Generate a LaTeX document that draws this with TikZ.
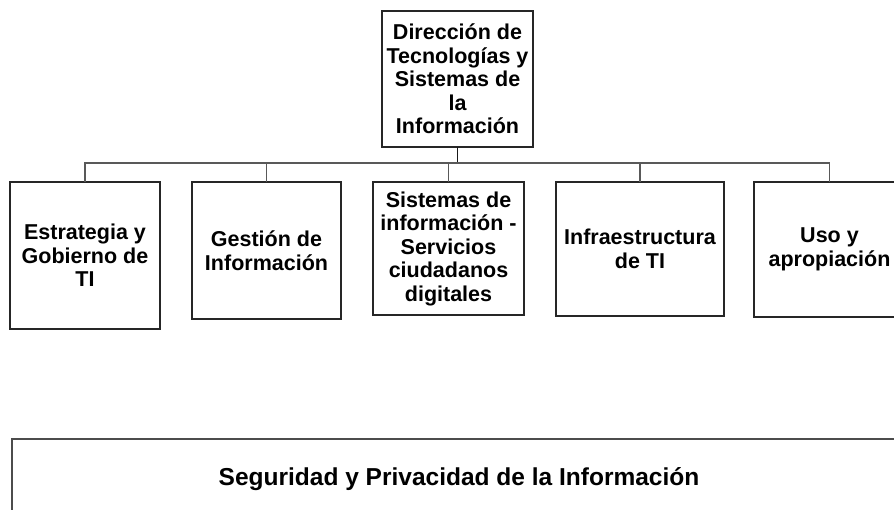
\documentclass[tikz,border=0pt]{standalone}
\usepackage{fontspec}
\setmainfont{Liberation Sans}
\usepackage{tikz}
\usetikzlibrary{positioning}

\begin{document}
\begin{tikzpicture}[
    x=1pt, y=-1pt,
    node distance=0pt and 32pt,
    area/.style={rectangle, draw=black!85, line width=1.4pt, outer sep=0pt, align=center, inner sep=2pt, font=\fontsize{21.5}{23.5}\selectfont\bfseries},
    band/.style={rectangle, draw=black!70, line width=2pt, outer sep=0pt, align=center, font=\fontsize{24.5}{28}\selectfont\bfseries},
    link/.style={draw=black!65, line width=1.1pt},
    trunk/.style={draw=black!90, line width=1.8pt}
]
\useasboundingbox (0,0) rectangle (894,510);
\node[area, minimum width=151pt, minimum height=136pt] (dir) at (457.5,79) {Dirección de\\Tecnologías y\\Sistemas de\\la\\Información};
\node[area, minimum width=150pt, minimum height=147pt, anchor=north west] (estrategia) at (10,182) {Estrategia y\\Gobierno de\\TI};
\node[area, minimum width=149pt, minimum height=137pt, below right=0pt and 32pt of estrategia.north east] (gestion) {Gestión de\\Información};
\node[area, minimum width=151pt, minimum height=133pt, below right=0pt and 32pt of gestion.north east] (sistemas) {Sistemas de\\información -\\Servicios\\ciudadanos\\digitales};
\node[area, minimum width=168pt, minimum height=134pt, below right=0pt and 32pt of sistemas.north east] (infra) {Infraestructura\\de TI};
\node[area, minimum width=151pt, minimum height=135pt, below right=0pt and 30pt of infra.north east] (uso) {Uso y\\apropiación};
\node[band, minimum width=894pt, minimum height=100pt, text height=18pt, text depth=26pt, anchor=north west] (seguridad) at (12,439) {Seguridad y Privacidad de la Información};

\coordinate (bus) at (457.5,163);
\draw[trunk] (dir.south) -- (bus);
\draw[link, draw=black!85, line width=1.4pt] (estrategia.north |- bus) -- (uso.north |- bus);
\foreach \n in {estrategia,gestion,sistemas,infra,uso}
    \draw[link] (bus) -| (\n.north);
\end{tikzpicture}
\end{document}
